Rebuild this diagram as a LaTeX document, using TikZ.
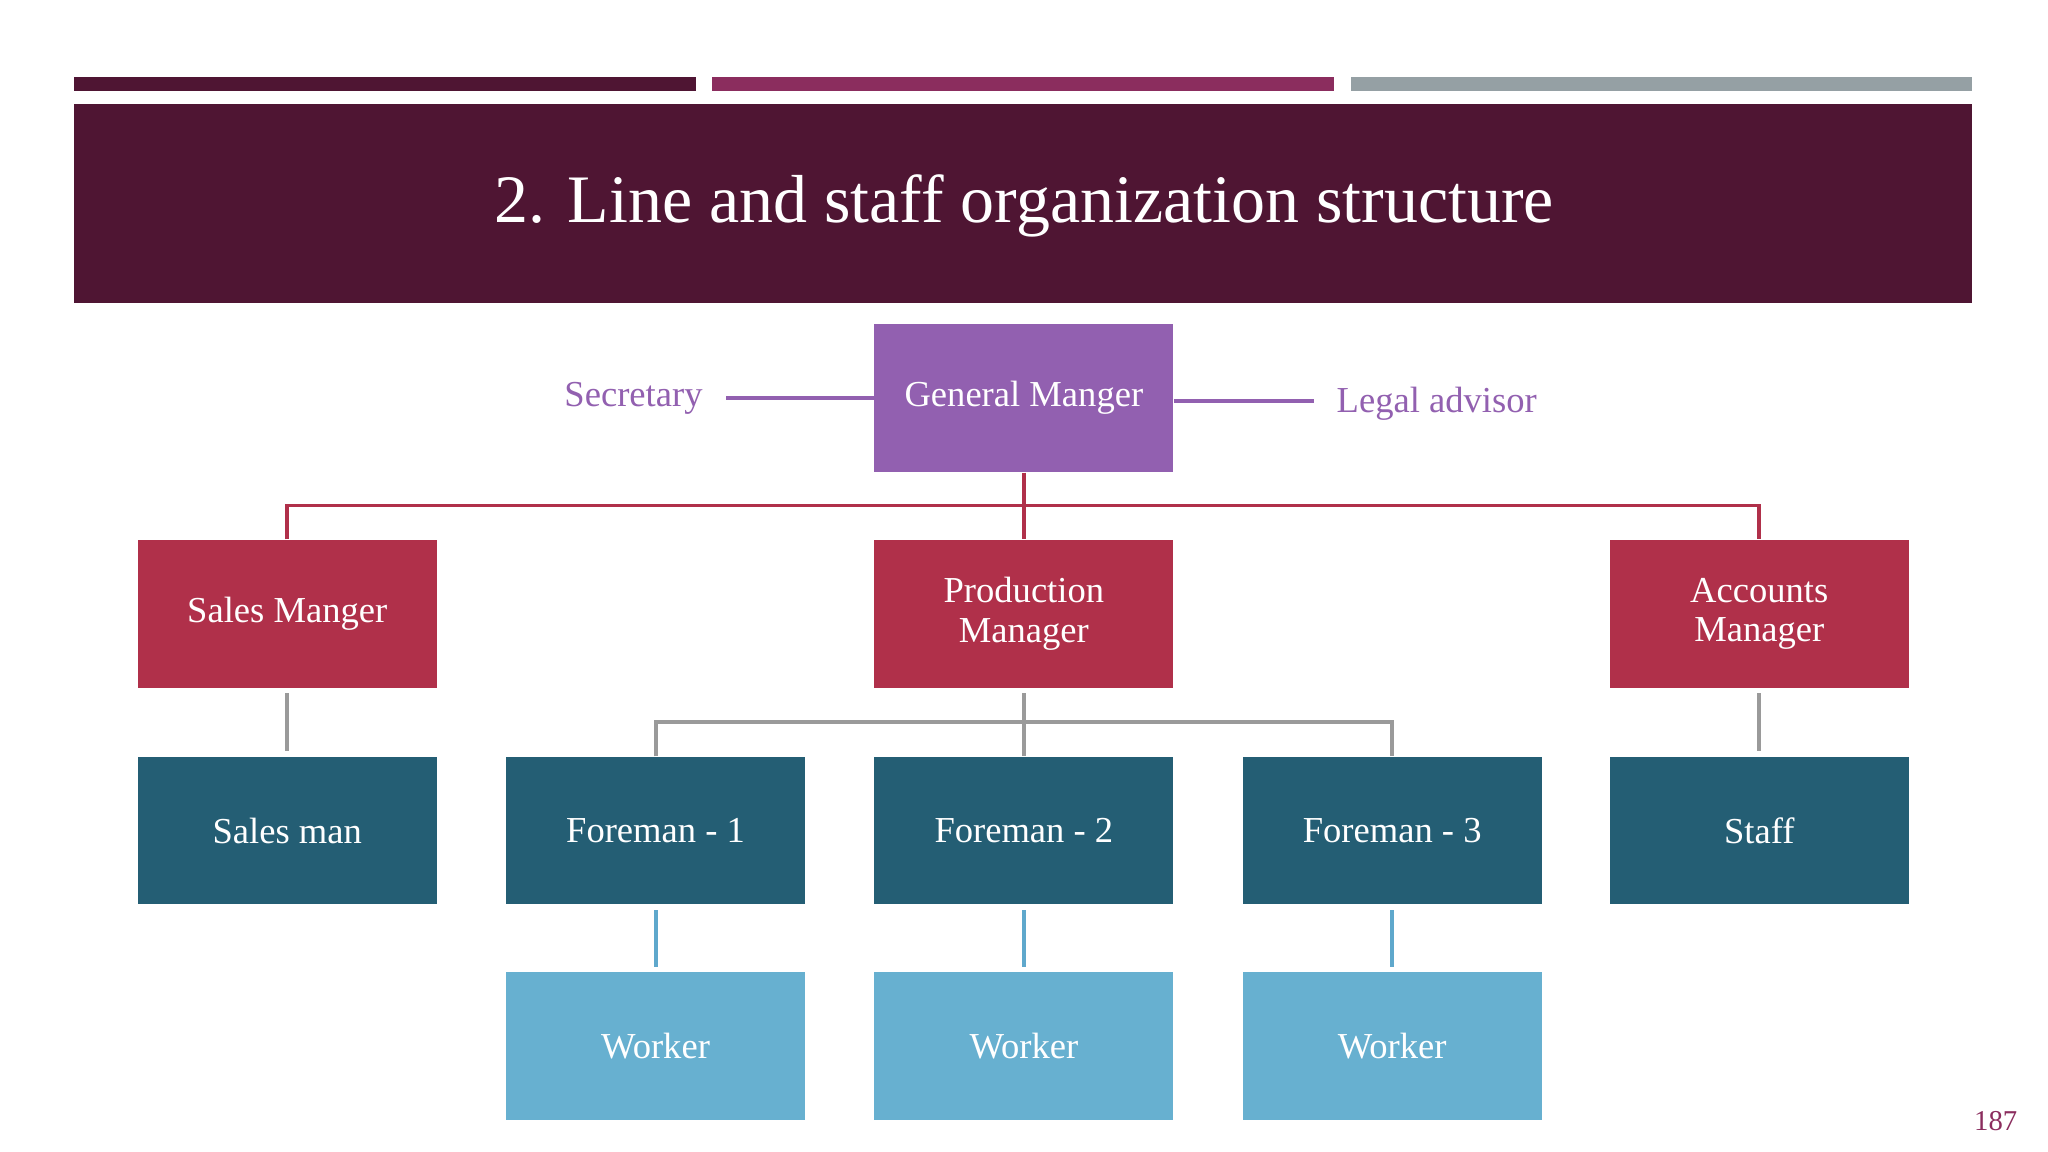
\documentclass[tikz,border=0pt]{standalone}
\usepackage{fontspec}
\setmainfont{Liberation Serif}
\definecolor{dark}{HTML}{4F1533}
\definecolor{mag}{HTML}{8B2D5E}
\definecolor{gry}{HTML}{95A0A4}
\definecolor{purp}{HTML}{9260B0}
\definecolor{red}{HTML}{B0304A}
\definecolor{teal}{HTML}{245E74}
\definecolor{lblue}{HTML}{67B0D0}
\definecolor{cblue}{HTML}{5FA8CC}
\definecolor{cgray}{HTML}{9A9A9A}
\begin{document}
\begin{tikzpicture}[x=0.5pt,y=-0.5pt,
 box/.style={minimum width=114.5pt,minimum height=56.5pt,inner sep=0pt,text=white,font=\fontsize{14}{15}\selectfont,align=center,anchor=north west},
 redl/.style={draw=red,line width=1.5pt},
 grayl/.style={draw=cgray,line width=1.5pt},
 bluel/.style={draw=cblue,line width=1.5pt},
 purl/.style={draw=purp,line width=1.5pt}]
\useasboundingbox (0,0) rectangle (1568,882);
\fill[white] (0,0) rectangle (1568,882);
\fill[dark] (57,59) rectangle (533,70);
\fill[mag] (545,59) rectangle (1021,70);
\fill[gry] (1034,59) rectangle (1510,70);
\fill[dark] (57,80) rectangle (1510,232);
\node[text=white,font=\fontsize{26}{28}\selectfont] (title) at (784,158) {2. Line and staff organization structure};
\node[box,fill=purp] (gm) at (669,248) {General Manger};
\node[text=purp,font=\fontsize{14}{15}\selectfont] (sec) at (485,305) {Secretary};
\node[text=purp,font=\fontsize{14}{15}\selectfont] (leg) at (1100,309) {Legal advisor};
\draw[purl] (556,305) coordinate (s1) -- (gm.west|-s1);
\draw[purl] (gm.east|-0,307) coordinate (l0) -- (1006,307);
\node[box,fill=red] (sm) at (105,413) {Sales Manger};
\node[box,fill=red] (pm) at (669,413) {Production\\Manager};
\node[box,fill=red] (am) at (1232,413) {Accounts\\Manager};
\foreach \n/\x in {sman/105,f1/387,f2/669,f3/951,st/1232}{}
\node[box,fill=teal] (sman) at (105,579) {Sales man};
\node[box,fill=teal] (f1) at (387,579) {Foreman - 1};
\node[box,fill=teal] (f2) at (669,579) {Foreman - 2};
\node[box,fill=teal] (f3) at (951,579) {Foreman - 3};
\node[box,fill=teal] (st) at (1232,579) {Staff};
\node[box,fill=lblue] (w1) at (387,744) {Worker};
\node[box,fill=lblue] (w2) at (669,744) {Worker};
\node[box,fill=lblue] (w3) at (951,744) {Worker};
\draw[redl] (gm.south) -- (pm.north);
\draw[redl] (sm.north) -- ++(0,-26) -| (am.north);
\draw[grayl] ([yshift=-2pt]sm.south) -- ([yshift=2pt]sman.north);
\draw[grayl] ([yshift=-2pt]am.south) -- ([yshift=2pt]st.north);
\draw[grayl] ([yshift=-2pt]pm.south) -- (f2.north);
\draw[grayl] (f1.north) -- ++(0,-26) -| (f3.north);
\draw[bluel] ([yshift=-2pt]f1.south) -- ([yshift=2pt]w1.north);
\draw[bluel] ([yshift=-2pt]f2.south) -- ([yshift=2pt]w2.north);
\draw[bluel] ([yshift=-2pt]f3.south) -- ([yshift=2pt]w3.north);
\node[text=mag,font=\fontsize{11}{12}\selectfont] (pg) at (1528,858) {187};
\end{tikzpicture}
\end{document}
